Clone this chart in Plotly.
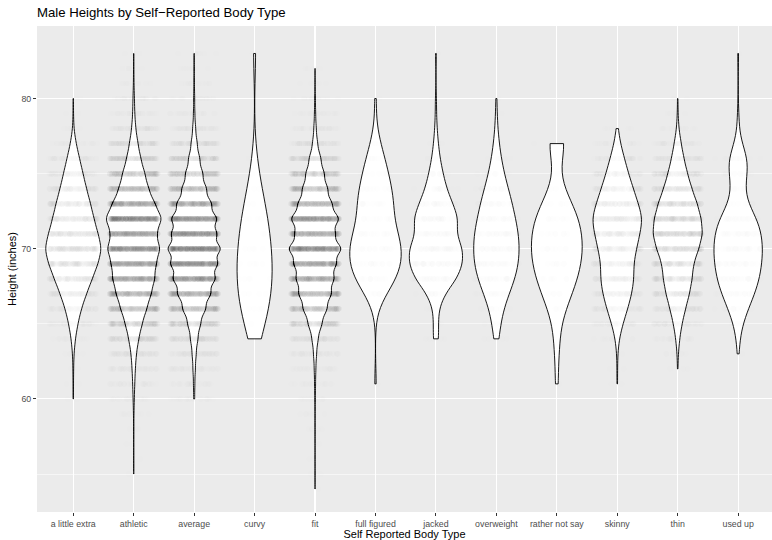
import numpy as np
import plotly.graph_objects as go

# ---- data (number of men at each whole-inch height) ----
categories = ["a little extra", "athletic", "average", "curvy", "fit", "full figured",
              "jacked", "overweight", "rather not say", "skinny", "thin", "used up"]
lowest_height = [60, 55, 60, 64, 54, 61, 64, 64, 61, 61, 62, 63]

counts_a_little_extra = [2, 2, 3, 6, 18, 40, 70, 115, 165, 215, 250, 215, 180, 150, 115, 85, 55, 25, 5, 2, 2]
counts_athletic = [2, 1, 2, 4, 8, 20, 35, 55, 90, 170, 285, 440, 595, 715, 750, 910, 750, 980, 715, 500,
                   380, 240, 145, 70, 35, 25, 10, 6, 4]
counts_average = [20, 27, 47, 78, 144, 246, 440, 636, 807, 897, 1014, 858, 870, 663, 468, 332, 215, 117,
                  58, 27, 20, 12, 8, 8]
counts_curvy = [2, 3, 4, 5, 5, 5, 5, 4, 4, 3, 2, 1, 1, 0, 0, 0, 0, 0, 0, 1]
counts_fit = [1, 2, 2, 3, 5, 7, 11, 18, 28, 53, 106, 237, 414, 566, 655, 726, 920, 673, 832, 584, 435,
              319, 202, 88, 42, 21, 14, 7, 5]
counts_full_figured = [1, 0, 0, 0, 0, 1, 6, 14, 16, 17, 14, 10, 12, 10, 8, 6, 3, 1, 0, 1]
counts_jacked = [5, 4, 5, 15, 35, 45, 45, 33, 38, 28, 18, 12, 7, 4, 2, 1, 1, 0, 0, 1]
counts_overweight = [4, 6, 10, 18, 27, 32, 33, 32, 27, 23, 17, 11, 7, 4, 2, 1, 1]
counts_rather_not_say = [1, 0, 1, 1, 1, 3, 5, 7, 8, 9, 8, 8, 5, 2, 1, 0, 6]
counts_skinny = [2, 2, 3, 12, 35, 65, 90, 105, 100, 120, 140, 160, 130, 100, 70, 45, 20, 5]
counts_thin = [3, 8, 25, 55, 100, 150, 185, 200, 270, 320, 300, 250, 180, 125, 80, 45, 15, 5, 3]
counts_used_up = [1, 2, 5, 12, 20, 26, 28, 30, 28, 24, 10, 7, 11, 14, 3, 1, 1, 0, 0, 0, 1]

counts_by_type = [counts_a_little_extra, counts_athletic, counts_average, counts_curvy, counts_fit,
                  counts_full_figured, counts_jacked, counts_overweight, counts_rather_not_say,
                  counts_skinny, counts_thin, counts_used_up]

# style: violin widths (category units) as drawn in the reference (ggplot area scaling)
violin_widths = [0.91, 0.90, 0.86, 0.58, 0.85, 0.85, 0.88, 0.75, 0.84, 0.80, 0.81, 0.80]

# ---- helpers ----
def nrd0(x):
    sd = np.std(x, ddof=1)
    q1, q3 = np.percentile(x, [25, 75])
    lo = min(sd, (q3 - q1) / 1.34)
    return 0.9 * lo * len(x) ** -0.2

W, H = 772, 540

fig = go.Figure()
for lo, cnt, cat, w in zip(lowest_height, counts_by_type, categories, violin_widths):
    h = np.arange(lo, lo + len(cnt))
    s = np.repeat(h, cnt).astype(float)
    fig.add_trace(go.Violin(
        x=[cat] * len(s), y=s, name=cat,
        bandwidth=nrd0(s), spanmode="hard",
        scalemode="width", width=w,
        fillcolor="white", line=dict(color="black", width=0.9),
        points="all", pointpos=0, jitter=min(1.0, 0.8 / w),
        marker=dict(color="black", size=7, opacity=0.004, line=dict(width=0)),
        box_visible=False, meanline_visible=False,
        hoverinfo="skip", showlegend=False,
    ))

font_family = "Liberation Sans, Arial, sans-serif"
fig.update_layout(
    width=W, height=H,
    margin=dict(l=37, r=0, t=26, b=28),
    paper_bgcolor="white", plot_bgcolor="#EBEBEB",
    violinmode="overlay",
    font=dict(family=font_family, color="black"),
    title=dict(text="Male Heights by Self\u2212Reported Body Type",
               x=37 / W, xanchor="left", xref="container",
               y=1 - 12.4 / H, yanchor="middle", yref="container",
               font=dict(size=13.2, color="black")),
)
fig.update_xaxes(
    type="category", categoryorder="array", categoryarray=categories,
    range=[-0.6, 11.56],
    showgrid=True, gridcolor="white", gridwidth=1.1,
    ticks="outside", ticklen=3, tickwidth=1, tickcolor="#333333",
    tickfont=dict(size=8.8, color="#4D4D4D"),
    showline=False, zeroline=False,
    title=dict(text="Self Reported Body Type", font=dict(size=11, color="black"), standoff=0),
)
fig.update_yaxes(
    range=[52.47, 84.83], tickvals=[60, 70, 80],
    showgrid=True, gridcolor="white", gridwidth=1.1,
    minor=dict(tickvals=[55, 65, 75], showgrid=True, gridcolor="white", gridwidth=0.55, ticks=""),
    ticks="outside", ticklen=3, tickwidth=1, tickcolor="#333333",
    tickfont=dict(size=8.8, color="#4D4D4D"),
    showline=False, zeroline=False,
    title=dict(text="Height (inches)", font=dict(size=11, color="black"), standoff=2),
)

# the page's default 8px body margin would shift the figure; remove it
fig.write_html("out.html", config={"displayModeBar": False, "staticPlot": True},
               post_script="document.body.style.margin='0';")
